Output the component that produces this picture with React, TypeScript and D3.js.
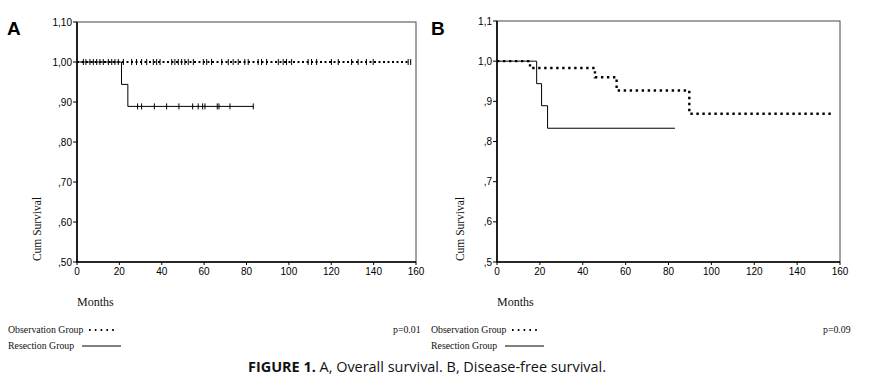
import React from "react";
import * as d3 from "d3";

// ---------- Data ----------
const xTicks = [0, 20, 40, 60, 80, 100, 120, 140, 160];
const yTicks = [1.1, 1.0, 0.9, 0.8, 0.7, 0.6, 0.5];
const yTickLabelsA = ["1,10", "1,00", ",90", ",80", ",70", ",60", ",50"];
const yTickLabelsB = ["1,1", "1,0", ",9", ",8", ",7", ",6", ",5"];

// Panel A: overall survival
const obsA_times = [0, 157.5];
const obsA_surv = [1.0, 1.0];
const obsA_censor = [3, 4.2, 6.1, 7.7, 9.3, 10.8, 12.4, 14.8, 16.4, 17.9, 19.5, 21.9, 25.8, 28.1, 30.5, 32.9, 36, 37.6, 39.2, 44.7, 46.2, 47.8, 49.4, 50.9, 52.5, 54.9, 59.6, 61.2, 63.5, 68.3, 71.4, 73.7, 76.1, 79.2, 80.8, 85.5, 87.1, 89.5, 95, 97.3, 98.9, 101.3, 109.1, 110.7, 113.1, 120.1, 123.3, 129.6, 132.7, 136.6, 139.8, 156.3, 157.5];
const resA_times = [0, 21, 24, 83.3];
const resA_surv = [1.0, 0.944, 0.889, 0.889];
const resA_censor = [28.6, 30.5, 36.5, 42.3, 48.1, 54.6, 57.2, 59.3, 60.4, 66.2, 67, 72.2, 83.2];

// Panel B: disease-free survival
const obsB_times = [0, 15.4, 45.7, 55.8, 89.7, 156];
const obsB_surv = [1.0, 0.983, 0.96, 0.927, 0.869, 0.869];
const resB_times = [0, 18.5, 20.8, 23.6, 83];
const resB_surv = [1.0, 0.944, 0.889, 0.833, 0.833];

type Series = { times: number[]; surv: number[]; censor?: number[]; dotted: boolean };

type PanelProps = {
  letter: string;
  letterX: number;
  left: number;
  right: number;
  top: number;
  bottom: number;
  yLabels: string[];
  series: Series[];
  dash: string;
  dotWidth: number;
  cumX: number;
  legendX: number;
  pText: string;
  pX: number;
};

function Panel(p: PanelProps) {
  const x = d3.scaleLinear().domain([0, 160]).range([p.left, p.right]);
  const y = d3.scaleLinear().domain([0.5, 1.1]).range([p.bottom, p.top]);
  const line = d3
    .line<[number, number]>()
    .x((d) => x(d[0]))
    .y((d) => y(d[1]))
    .curve(d3.curveStepAfter);
  const serif = "'Liberation Serif', 'Times New Roman', serif";
  const sans = "'Liberation Sans', Arial, sans-serif";
  return (
    <g>
      <text x={p.letterX} y={35} fontFamily={sans} fontWeight="bold" fontSize={19}>
        {p.letter}
      </text>
      {/* frame */}
      <rect x={p.left} y={p.top} width={p.right - p.left} height={p.bottom - p.top} fill="none" stroke="#444" strokeWidth={1} />
      <line x1={p.left} x2={p.left} y1={p.top} y2={p.bottom + 0.5} stroke="#000" strokeWidth={1.6} />
      <line x1={p.left} x2={p.right} y1={p.bottom} y2={p.bottom} stroke="#000" strokeWidth={1.6} />
      {/* y ticks */}
      {yTicks.map((t, i) => (
        <g key={"y" + i}>
          <line x1={p.left - 4} x2={p.left} y1={y(t)} y2={y(t)} stroke="#000" strokeWidth={1} />
          <text x={p.left - 5} y={y(t) + 3.5} textAnchor="end" fontFamily={sans} fontSize={10} fill="#000">
            {p.yLabels[i]}
          </text>
        </g>
      ))}
      {/* x ticks */}
      {xTicks.map((t) => (
        <g key={"x" + t}>
          <line x1={x(t)} x2={x(t)} y1={p.bottom} y2={p.bottom + 3} stroke="#000" strokeWidth={1} />
          <text x={x(t)} y={p.bottom + 13} textAnchor="middle" fontFamily={sans} fontSize={10} fill="#000">
            {t}
          </text>
        </g>
      ))}
      <text
        transform={`translate(${p.cumX},229) rotate(-90)`}
        textAnchor="middle"
        fontFamily={serif}
        fontSize={11.5}
        fill="#111"
      >
        Cum Survival
      </text>
      <text x={p.left} y={306} fontFamily={serif} fontSize={12} fill="#111">
        Months
      </text>
      {/* series */}
      {p.series.map((s, i) => {
        const pts = s.times.map((t, j) => [t, s.surv[j]] as [number, number]);
        return (
          <g key={"s" + i}>
            <path
              d={line(pts) || ""}
              fill="none"
              stroke="#000"
              strokeWidth={s.dotted ? p.dotWidth : 1}
              strokeDasharray={s.dotted ? p.dash : undefined}
            />
            {(s.censor || []).map((c, k) => {
              const lvl = s.surv[d3.bisectRight(s.times, c) - 1] ?? s.surv[s.surv.length - 1];
              return (
                <line key={k} x1={x(c)} x2={x(c)} y1={y(lvl) - 3} y2={y(lvl) + 3} stroke="#000" strokeWidth={1} />
              );
            })}
          </g>
        );
      })}
      {/* legend */}
      <text x={p.legendX} y={333} fontFamily={serif} fontSize={9.8} fill="#111">
        Observation Group
      </text>
      <line x1={p.legendX + 81} x2={p.legendX + 106} y1={330} y2={330} stroke="#000" strokeWidth={2} strokeDasharray="1.6,4.2" />
      <text x={p.legendX} y={349} fontFamily={serif} fontSize={9.8} fill="#111">
        Resection Group
      </text>
      <line x1={p.legendX + 74} x2={p.legendX + 113} y1={346} y2={346} stroke="#000" strokeWidth={1} />
      <text x={p.pX} y={333} fontFamily={serif} fontSize={9.8} fill="#111">
        {p.pText}
      </text>
    </g>
  );
}

export default function App() {
  return (
    <svg width={878} height={381} style={{ position: "absolute", left: 0, top: 0, background: "#fff" }}>
      <rect width={878} height={381} fill="#fff" />
      <Panel
        letter="A"
        letterX={7}
        left={77}
        right={416}
        top={22}
        bottom={262}
        yLabels={yTickLabelsA}
        series={[
          { times: obsA_times, surv: obsA_surv, censor: obsA_censor, dotted: true },
          { times: resA_times, surv: resA_surv, censor: resA_censor, dotted: false },
        ]}
        dash="2,2.5"
        dotWidth={2}
        cumX={41}
        legendX={8}
        pText="p=0.01"
        pX={393}
      />
      <Panel
        letter="B"
        letterX={431}
        left={497}
        right={840}
        top={21}
        bottom={262}
        yLabels={yTickLabelsB}
        series={[
          { times: obsB_times, surv: obsB_surv, dotted: true },
          { times: resB_times, surv: resB_surv, dotted: false },
        ]}
        dash="2.4,3.6"
        dotWidth={2.4}
        cumX={464}
        legendX={431}
        pText="p=0.09"
        pX={823}
      />
      <text
        x={248}
        y={372}
        fontFamily="'Open Sans', 'Noto Sans', sans-serif"
        fontSize={14}
        fill="#111"
        textLength={358}
        lengthAdjust="spacingAndGlyphs"
      >
        <tspan fontWeight="bold">FIGURE 1.</tspan>
        <tspan> A, Overall survival. B, Disease-free survival.</tspan>
      </text>
    </svg>
  );
}
